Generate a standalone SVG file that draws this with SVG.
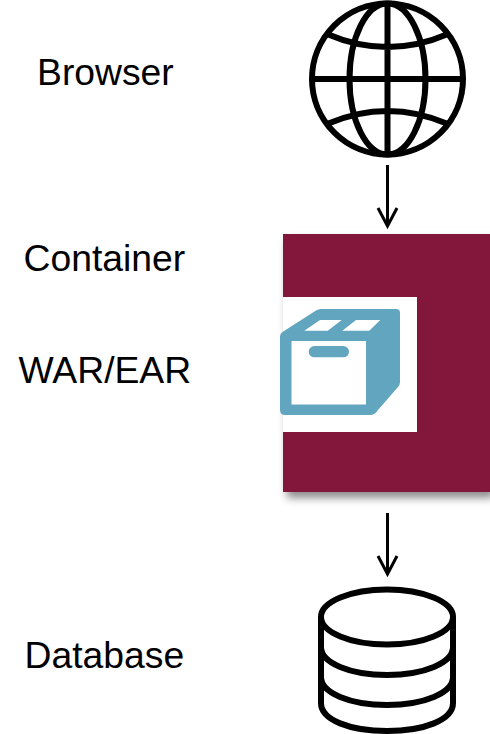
<svg xmlns="http://www.w3.org/2000/svg" width="490" height="734" viewBox="0 0 490 734">
<style>
.l{font-family:"Liberation Sans",Arial,sans-serif;font-size:37.300px;fill:#000}
.s{fill:none;stroke:#000;stroke-width:6}
.c{fill:none;stroke:#000;stroke-width:3}
</style>
<defs>
<filter id="sh" x="-10%" y="-10%" width="120%" height="120%"><feDropShadow dx="4" dy="6" stdDeviation="4" flood-color="#000" flood-opacity="0.45"/></filter>
</defs>
<rect width="490" height="734" fill="#fff"/>
<g id="browser">
<text class="l" x="37" y="85">Browser</text>
<g class="s">
<circle cx="387.500" cy="79" r="75.500"/>
<ellipse cx="387.500" cy="79" rx="38" ry="75.500"/>
<path d="M387.500 4V154M312 79H463M327 34Q387.500 60 448 34M327 124Q387.500 98 448 124"/>
</g>
</g>
<g id="container">
<text class="l" x="23.500" y="271">Container</text>
<rect x="283" y="234" width="207" height="258" fill="#82163A" filter="url(#sh)"/>
</g>
<g id="war-ear">
<text class="l" x="18.500" y="383">WAR/EAR</text>
<rect x="283" y="297" width="134" height="135" fill="#fff"/>
<path d="M284 331L316 310.500Q318 309 321 309H396Q400 309 400 313V382Q400 385 398 387L378 410Q375 415 370 415H285Q280 415 280 410V337Q280 333 284 331Z" fill="#62A5BF"/>
<g fill="#fff">
<rect x="291.500" y="341" width="74.500" height="63.500"/>
<path d="M304.300 330.700L320 320H341.700L327.700 330.700ZM342.300 330.700L356 320H380.300L369.300 330.700Z"/>
</g>
<rect x="308.700" y="346" width="40.300" height="11.300" rx="5.650" fill="#62A5BF"/>
</g>
<g id="database">
<text class="l" x="24.500" y="668">Database</text>
<g class="s">
<ellipse cx="387" cy="617" rx="66" ry="27.500"/>
<path d="M321 617V703C321 720 350 731 387 731S453 720 453 703V617M321 647C321 663 350 675 387 675S453 663 453 647M321 677C321 693 350 705 387 705S453 693 453 677"/>
</g>
</g>
<g id="connectors">
<path class="c" d="M387.500 165V226M378 208L387.500 226L397 208"/>
<path class="c" d="M387.500 513V574M378 556L387.500 574L397 556"/>
</g>
</svg>
